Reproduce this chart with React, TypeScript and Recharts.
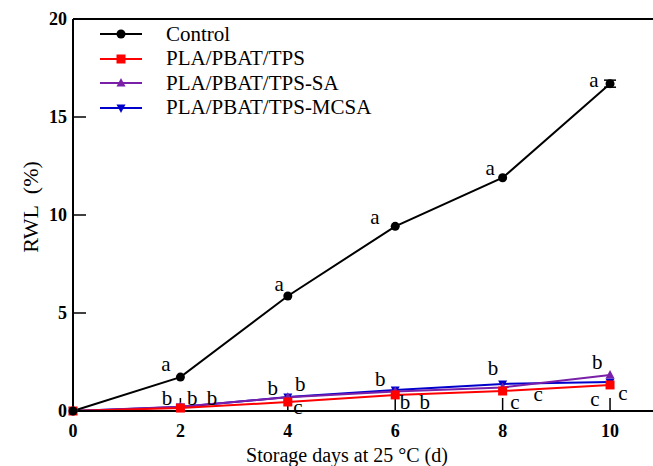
import {
  ComposedChart,
  Line,
  XAxis,
  YAxis,
  ReferenceLine,
  ReferenceDot,
  ErrorBar,
} from "recharts"

const days = [0, 2, 4, 6, 8, 10]
const control = [0, 1.73, 5.87, 9.42, 11.9, 16.7]
const controlErr = [0, 0, 0, 0, 0, 0.18]
const plaPbatTps = [0, 0.15, 0.46, 0.82, 1.02, 1.33]
const plaPbatTpsSa = [0, 0.22, 0.7, 1.0, 1.2, 1.84]
const plaPbatTpsMcsa = [0, 0.2, 0.71, 1.07, 1.38, 1.48]

const xTicks = [0, 2, 4, 6, 8, 10]
const yTicks = [0, 5, 10, 15, 20]

// significance letters: [day, value, letter]
const letters: [number, number, string][] = [
  [1.73, 2.4, "a"],
  [3.84, 6.5, "a"],
  [5.62, 9.9, "a"],
  [7.77, 12.4, "a"],
  [9.7, 16.9, "a"],
  [1.75, 0.71, "b"],
  [2.22, 0.71, "b"],
  [2.59, 0.71, "b"],
  [3.72, 1.2, "b"],
  [4.23, 1.4, "b"],
  [4.19, 0.22, "c"],
  [5.72, 1.68, "b"],
  [6.18, 0.46, "b"],
  [6.55, 0.46, "b"],
  [7.82, 2.2, "b"],
  [8.23, 0.46, "c"],
  [8.66, 0.87, "c"],
  [9.76, 2.5, "b"],
  [9.72, 0.66, "c"],
  [10.24, 0.92, "c"],
]

const data = days.map((d, i) => ({
  day: d,
  control: control[i],
  controlErr: controlErr[i],
  tps: plaPbatTps[i],
  sa: plaPbatTpsSa[i],
  mcsa: plaPbatTpsMcsa[i],
}))

const font = "Liberation Serif, Times New Roman, serif"

type Shape = "circle" | "square" | "up" | "down"

function Marker({ cx, cy, color, shape }: { cx: number; cy: number; color: string; shape: Shape }) {
  if (cx == null || cy == null) return null
  if (shape === "circle") return <circle cx={cx} cy={cy} r={4.5} fill={color} />
  if (shape === "square")
    return <rect x={cx - 4.5} y={cy - 4.5} width={9} height={9} fill={color} />
  if (shape === "up")
    return <polygon points={`${cx},${cy - 5} ${cx - 4.5},${cy + 3.5} ${cx + 4.5},${cy + 3.5}`} fill={color} />
  return <polygon points={`${cx},${cy + 5} ${cx - 4.5},${cy - 3.5} ${cx + 4.5},${cy - 3.5}`} fill={color} />
}

const series: { key: string; name: string; color: string; shape: Shape }[] = [
  { key: "control", name: "Control", color: "#000000", shape: "circle" },
  { key: "tps", name: "PLA/PBAT/TPS", color: "#ff0000", shape: "square" },
  { key: "sa", name: "PLA/PBAT/TPS-SA", color: "#7a1fa8", shape: "up" },
  { key: "mcsa", name: "PLA/PBAT/TPS-MCSA", color: "#0000cc", shape: "down" },
]

function LegendBox() {
  return (
    <div
      style={{
        position: "absolute",
        left: 100,
        top: 22,
        fontFamily: font,
        fontSize: 21,
        color: "#000",
        lineHeight: 1,
      }}
    >
      {series.map((s) => (
        <div key={s.key} style={{ display: "flex", alignItems: "center", height: 24.5 }}>
          <svg width={42} height={12} style={{ marginRight: 24 }}>
            <line x1={0} y1={6} x2={42} y2={6} stroke={s.color} strokeWidth={2} />
            <Marker cx={21} cy={6} color={s.color} shape={s.shape} />
          </svg>
          <span>{s.name}</span>
        </div>
      ))}
    </div>
  )
}

function YLabel(props: any) {
  const vb = props.viewBox || { x: 0, y: 19, width: 73, height: 392 }
  const x = 30
  const y = vb.y + vb.height / 2 - 8
  return (
    <text
      x={x}
      y={y}
      transform={`rotate(-90, ${x}, ${y})`}
      textAnchor="middle"
      dominantBaseline="central"
      fill="#000"
      fontSize={22}
      fontFamily={font}
    >
      RWL{"\u00a0\u00a0"}(%)
    </text>
  )
}

export default function App() {
  const drawOrder = [series[3], series[2], series[1], series[0]]
  return (
    <div style={{ position: "absolute", left: 0, top: 0, width: 653, height: 466, background: "#fff", fontFamily: font }}>
      <ComposedChart
        width={653}
        height={466}
        data={data}
        margin={{ top: 19, right: 0, left: 0, bottom: 0 }}
      >
        <XAxis
          dataKey="day"
          type="number"
          domain={[0, 10.8]}
          ticks={xTicks}
          height={55}
          tickSize={-13}
          tickMargin={26}
          axisLine={{ stroke: "#000", strokeWidth: 2 }}
          tickLine={{ stroke: "#000", strokeWidth: 1.5 }}
          tick={{ fill: "#000", fontSize: 18, fontWeight: "bold", fontFamily: font }}
          label={{
            value: "Storage days at 25 °C (d)",
            position: "insideBottom",
            offset: 4,
            dx: -16,
            style: { fill: "#000", fontSize: 20, fontFamily: font },
          }}
        />
        <YAxis
          type="number"
          domain={[0, 20]}
          ticks={yTicks}
          width={73}
          tickSize={-13}
          tickMargin={19}
          axisLine={{ stroke: "#000", strokeWidth: 2 }}
          tickLine={{ stroke: "#000", strokeWidth: 1.5 }}
          tick={{ fill: "#000", fontSize: 18, fontWeight: "bold", fontFamily: font }}
          label={<YLabel />}
        />
        <ReferenceLine y={20} stroke="#000" strokeWidth={2} />
        {drawOrder.map((s) => (
          <Line
            key={s.key}
            dataKey={s.key}
            name={s.name}
            stroke={s.color}
            strokeWidth={2}
            isAnimationActive={false}
            dot={(p: any) => <Marker key={`${s.key}-${p.index}`} cx={p.cx} cy={p.cy} color={s.color} shape={s.shape} />}
            activeDot={false}
          >
            {s.key === "control" && (
              <ErrorBar dataKey="controlErr" width={6} stroke="#000" strokeWidth={1.5} direction="y" />
            )}
          </Line>
        ))}
        {letters.map(([x, y, t], i) => (
          <ReferenceDot
            key={i}
            x={x}
            y={y}
            r={0}
            fill="none"
            stroke="none"
            label={{
              value: t,
              position: "center",
              style: { fill: "#000", fontSize: 21, fontFamily: font },
            }}
          />
        ))}
      </ComposedChart>
      <LegendBox />
    </div>
  )
}
